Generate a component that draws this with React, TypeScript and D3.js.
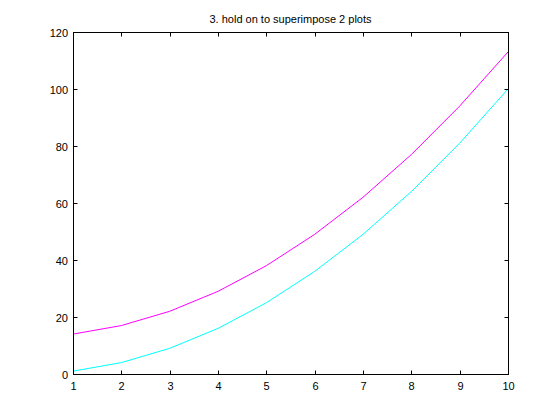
import React, { useEffect, useRef } from "react";
import * as d3 from "d3";

const xValues = [1, 2, 3, 4, 5, 6, 7, 8, 9, 10];
const cyanValues = [1, 4, 9, 16, 25, 36, 49, 64, 81, 100];
const magentaValues = [14, 17, 22, 29, 38, 49, 62, 77, 94, 113];
const xTicks = [1, 2, 3, 4, 5, 6, 7, 8, 9, 10];
const yTicks = [0, 20, 40, 60, 80, 100, 120];
const title = "3. hold on to superimpose 2 plots";

const App = () => {
  const svgRef = useRef<SVGSVGElement>(null);

  useEffect(() => {
    const svg = d3.select(svgRef.current);
    svg.selectAll("*").remove();

    const left = 73, right = 508, top = 32, bottom = 374;
    const x = d3.scaleLinear().domain([1, 10]).range([left, right]);
    const y = d3.scaleLinear().domain([0, 120]).range([bottom, top]);

    svg.append("rect").attr("width", 560).attr("height", 420).attr("fill", "#fff");

    const line = d3
      .line<number>()
      .x((_, i) => x(xValues[i]))
      .y((d) => y(d));

    svg.append("path").datum(cyanValues)
      .attr("fill", "none").attr("stroke", "#00ffff").attr("stroke-width", 1)
      .attr("d", line);
    svg.append("path").datum(magentaValues)
      .attr("fill", "none").attr("stroke", "#ff00ff").attr("stroke-width", 1)
      .attr("d", line);

    // box
    svg.append("rect")
      .attr("x", left + 0.5).attr("y", top + 0.5)
      .attr("width", right - left).attr("height", bottom - top)
      .attr("fill", "none").attr("stroke", "#000").attr("stroke-width", 1);

    const tickLen = 4;
    const font = "Liberation Sans, Arial, sans-serif";

    xTicks.forEach((t) => {
      const px = Math.round(x(t)) + 0.5;
      svg.append("line").attr("x1", px).attr("x2", px)
        .attr("y1", bottom + 0.5).attr("y2", bottom + 0.5 - tickLen)
        .attr("stroke", "#000");
      svg.append("line").attr("x1", px).attr("x2", px)
        .attr("y1", top + 0.5).attr("y2", top + 0.5 + tickLen)
        .attr("stroke", "#000");
      svg.append("text").attr("x", px).attr("y", bottom + 16)
        .attr("text-anchor", "middle").attr("font-family", font)
        .attr("font-size", 11).text(t);
    });

    yTicks.forEach((t) => {
      const py = Math.round(y(t)) + 0.5;
      svg.append("line").attr("x1", left + 0.5).attr("x2", left + 0.5 + tickLen)
        .attr("y1", py).attr("y2", py).attr("stroke", "#000");
      svg.append("line").attr("x1", right + 0.5).attr("x2", right + 0.5 - tickLen)
        .attr("y1", py).attr("y2", py).attr("stroke", "#000");
      svg.append("text").attr("x", left - 5).attr("y", py + 4)
        .attr("text-anchor", "end").attr("font-family", font)
        .attr("font-size", 11).text(t);
    });

    svg.append("text").attr("x", (left + right) / 2).attr("y", 23)
      .attr("text-anchor", "middle").attr("font-family", font)
      .attr("font-size", 11).text(title);
  }, []);

  return (
    <svg ref={svgRef} width={560} height={420}
      style={{ position: "absolute", left: 0, top: 0 }} />
  );
};

export default App;
